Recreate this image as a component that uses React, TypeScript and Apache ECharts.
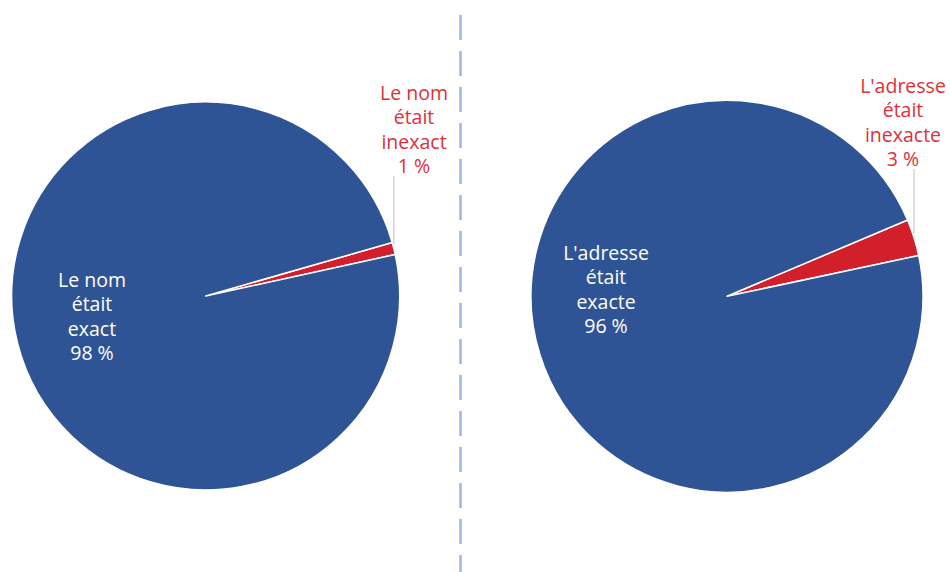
import React, { useEffect, useRef } from "react";
import * as echarts from "echarts";

const leftNames = ["Le nom\nétait\ninexact", "Le nom\nétait\nexact"];
const leftValues = [1, 98];
const rightNames = ["L'adresse\nétait\ninexacte", "L'adresse\nétait\nexacte"];
const rightValues = [3, 96];

const BLUE = "#2F5496";
const RED = "#D11F2B";
const RED_TEXT = "#DC3139";
const FONT = "'Open Sans', 'Liberation Sans', sans-serif";
const FONT_SIZE = 19.5;
const LINE_H = 24.5;

function makeSeries(
  names: string[],
  values: number[],
  center: [number, number],
  radius: number,
  startAngle: number,
  redLabelPos: [number, number],
  blueLabelPos: [number, number]
) {
  const labelHalfH = (LINE_H * 4) / 2;
  return {
    type: "pie",
    center,
    radius,
    startAngle,
    clockwise: true,
    silent: true,
    avoidLabelOverlap: false,
    itemStyle: { borderColor: "#ffffff", borderWidth: 1.5 },
    label: {
      fontFamily: FONT,
      fontSize: FONT_SIZE,
      lineHeight: LINE_H,
      align: "center",
      formatter: (p: any) => `${p.name}\n${p.value} %`,
    },
    labelLine: {
      show: true,
      length: 10,
      length2: 0,
      smooth: false,
      lineStyle: { color: "#C8C8C8", width: 1.2 },
    },
    labelLayout: (params: any) => {
      if (params.dataIndex === 0) {
        const out: any = {
          x: redLabelPos[0],
          y: redLabelPos[1],
          align: "center",
          verticalAlign: "middle",
        };
        const pts = params.labelLinePoints;
        if (pts && pts.length) {
          const ax = pts[0][0];
          const ay = pts[0][1] - 4;
          out.labelLinePoints = [
            [ax, ay],
            [ax, ay],
            [ax, redLabelPos[1] + labelHalfH - 2],
          ];
        }
        return out;
      }
      return { x: blueLabelPos[0], y: blueLabelPos[1], align: "center", verticalAlign: "middle" };
    },
    data: names.map((n, i) =>
      i === 0
        ? {
            name: n,
            value: values[i],
            itemStyle: { color: RED },
            label: { position: "outside", color: RED_TEXT },
          }
        : {
            name: n,
            value: values[i],
            itemStyle: { color: BLUE },
            label: { position: "inside", color: "#FFFFFF" },
            labelLine: { show: false },
          }
    ),
  };
}

export default function App() {
  const ref = useRef<HTMLDivElement>(null);
  useEffect(() => {
    document.body.style.margin = "0";
    if (!ref.current) return;
    const chart = echarts.init(ref.current, undefined, { renderer: "svg" });
    chart.setOption({
      animation: false,
      backgroundColor: "#ffffff",
      graphic: [
        {
          type: "line",
          shape: { x1: 460.5, y1: 15, x2: 460.5, y2: 572 },
          style: { stroke: "#9DB6E3", lineWidth: 2.5, lineDash: [25, 11] },
          silent: true,
        },
      ],
      series: [
        makeSeries(leftNames, leftValues, [205.7, 296], 194, 16.0, [414, 129], [92, 316]),
        makeSeries(rightNames, rightValues, [727, 296.3], 196, 22.9, [903, 122], [606, 289]),
      ],
    });
    return () => chart.dispose();
  }, []);
  return (
    <div
      ref={ref}
      style={{ position: "absolute", left: 0, top: 0, width: 950, height: 572 }}
    />
  );
}
